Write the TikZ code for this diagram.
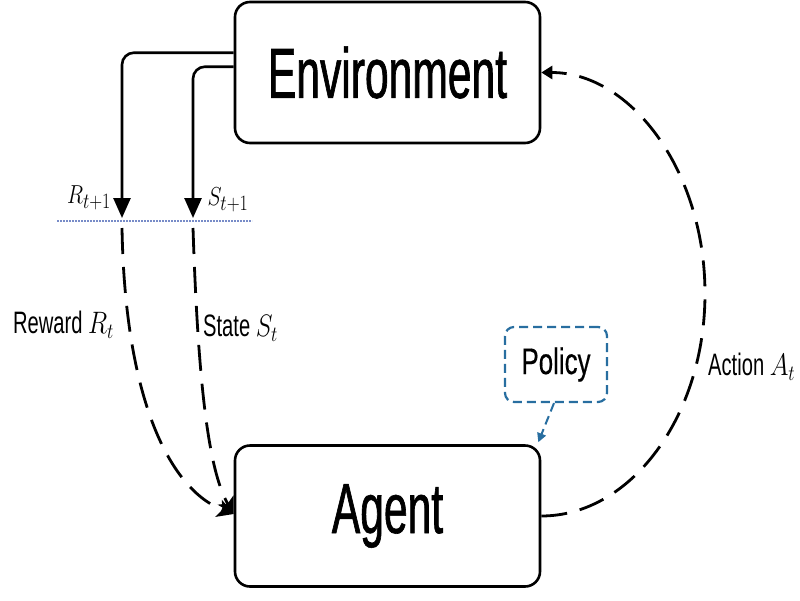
\documentclass[tikz,border=0pt]{standalone}
\usepackage{fix-cm}
\usepackage{fontspec}
\setmainfont{Liberation Sans}
\newfontfamily\bigsf[FakeStretch=0.6,FakeBold=0.9]{Liberation Sans}
\newfontfamily\midsf[FakeStretch=0.7,FakeBold=0.4]{Liberation Sans}
\newfontfamily\smsf[FakeStretch=0.65]{Liberation Sans}
\usetikzlibrary{arrows.meta,calc}
\definecolor{polblue}{RGB}{40,110,160}
\definecolor{dotblue}{RGB}{120,140,200}
\newcommand{\mth}[1]{\scalebox{0.82}[1]{$#1$}}
\newcommand{\bsub}[1]{\scalebox{1.2}{$\scriptstyle #1$}}
\begin{document}
\begin{tikzpicture}[x=1pt,y=-1pt,
  mainbox/.style={draw,line width=2.6pt,rounded corners=15pt,minimum width=305pt,minimum height=141pt,inner sep=0pt},
  bigtext/.style={font=\fontsize{71}{71}\bigsf},
  lbl/.style={font=\fontsize{31}{31}\smsf,inner sep=0pt},
  mlbl/.style={font=\fontsize{26}{26}\selectfont,inner sep=0pt},
  solidarrow/.style={line width=2.6pt,rounded corners=12pt,-{Triangle[width=17pt,length=20pt]}},
  dasharrow/.style={line width=2.8pt,dash pattern=on 26pt off 13pt,-{Stealth[width=18pt,length=16pt,inset=4pt]}},
  dashline/.style={line width=2.8pt,dash pattern=on 26pt off 13pt},
  policybox/.style={draw=polblue,line width=2.2pt,dash pattern=on 9pt off 5pt,rounded corners=9pt,minimum width=102pt,minimum height=75pt,inner sep=0pt,font=\fontsize{37}{37}\midsf},
  pointer/.style={draw=polblue,line width=2pt,dash pattern=on 9pt off 5pt,-{Triangle[width=9pt,length=9pt]}},
  sep/.style={draw=dotblue,line width=1.8pt,dash pattern=on 1.6pt off 1.4pt}
]
\useasboundingbox (0,0) rectangle (800,600);
\node[mainbox,bigtext] (env) at (387.5,72.5) {Environment};
\node[mainbox,bigtext] (agent) at (387.5,516) {Agent};
\node[policybox] (policy) at (556,364.5) {Policy};
% separator line
\coordinate (sepL) at (57,221);
\coordinate (sepR) at (252,221);
\draw[sep] (sepL) -- (sepR);
% tips and starts
\coordinate (rtip) at (122,218);
\coordinate (stip) at (193,218);
\coordinate (rstart) at (122,228);
\coordinate (sstart) at (193,228);
\draw[solidarrow] ([yshift=-52pt]env.north west) -| (rtip);
\draw[solidarrow] ([yshift=-66pt]env.north west) -| (stip);
% dashed to agent
\draw[dasharrow] (rstart) .. controls (125,400) and (170,490) .. ([yshift=2pt]agent.west);
\draw[dasharrow] (sstart) .. controls (198,380) and (208,470) .. ([yshift=2pt]agent.west);
% action arc
\coordinate (amid) at (705,293.5);
\draw[dashline,-{Triangle[width=13pt,length=11pt]}] (agent.east) .. controls (631,516) and (705,416) .. (amid)
   .. controls (705,171) and (631,72.5) .. (env.east);
% policy pointer
\draw[pointer] ([xshift=-2pt]policy.south) -- ([xshift=-3pt,yshift=2pt]agent.north east);
% labels
\node[mlbl] (rlab) at (89,198) {\mth{R_{\bsub{t+1}}}};
\node[mlbl] (slab) at (228,200) {\mth{S_{\bsub{t+1}}}};
\node[lbl,anchor=west] (reward) at (13,325) {Reward \mth{R_t}};
\node[lbl,anchor=west] (state) at (203,328) {State \mth{S_t}};
\node[lbl,anchor=west] (action) at (708,367) {Action \mth{A_t}};
\end{tikzpicture}
\end{document}
